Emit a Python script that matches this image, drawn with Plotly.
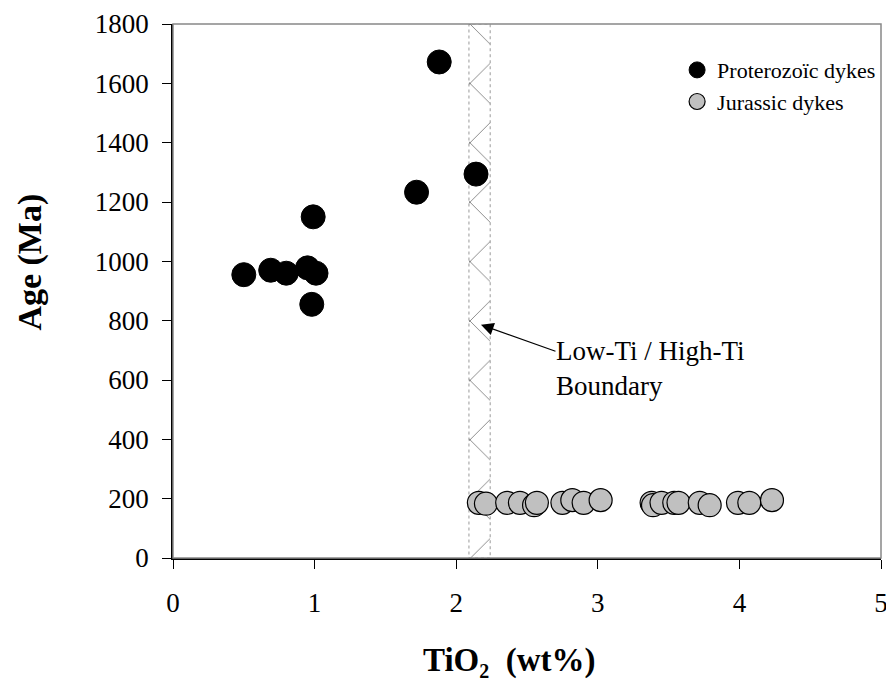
import plotly.graph_objects as go

# Proterozoic dykes
prot_tio2 = [1.88, 2.14, 1.72, 0.99, 0.50, 0.69, 0.80, 0.95, 1.01, 0.98]
prot_age = [1672, 1294, 1233, 1150, 955, 970, 960, 978, 960, 855]

# Jurassic dykes
jur_tio2 = [2.16, 2.21, 2.36, 2.45, 2.55, 2.57, 2.75, 2.82, 2.90, 3.02,
            3.38, 3.39, 3.45, 3.54, 3.57, 3.72, 3.79, 3.99, 4.07, 4.23]
jur_age = [186, 183, 186, 186, 178, 186, 186, 195, 186, 195,
           186, 178, 186, 186, 186, 186, 178, 186, 186, 195]

# Low-Ti / High-Ti boundary band (TiO2 wt%)
band_tio2 = [2.09, 2.24]
age_range = [0, 1800]

FONT = "Liberation Serif"

fig = go.Figure()

fig.add_trace(go.Scatter(
    x=[band_tio2[0], band_tio2[1], band_tio2[1], band_tio2[0], band_tio2[0]],
    y=[age_range[0], age_range[0], age_range[1], age_range[1], age_range[0]],
    mode="lines", fill="toself", fillcolor="rgba(255,255,255,0)",
    fillpattern=dict(shape="x", size=42, fgcolor="#111111", bgcolor="white", solidity=0.045),
    line=dict(color="#999999", width=1, dash="dot"),
    showlegend=False, hoverinfo="skip"))

fig.add_trace(go.Scatter(
    x=prot_tio2, y=prot_age, mode="markers", name="Proterozoïc dykes",
    marker=dict(size=24, color="black", line=dict(color="black", width=1))))

fig.add_trace(go.Scatter(
    x=jur_tio2, y=jur_age, mode="markers", name="Jurassic dykes",
    marker=dict(size=23, color="#c0c0c0", line=dict(color="black", width=1.2))))

fig.add_annotation(x=2.175, y=786, xref="x", yref="y", text="", showarrow=True,
                   ax=76, ay=27, arrowhead=2, arrowsize=2.1, arrowwidth=1.2, arrowcolor="black")
fig.add_annotation(x=2.69, y=640, xref="x", yref="y", text="Low-Ti / High-Ti<br>Boundary",
                   showarrow=False, xanchor="left", align="left",
                   font=dict(family=FONT, size=27, color="black"))

# axis titles
fig.add_annotation(x=-0.202, y=0.555, xref="paper", yref="paper", text="<b>Age (Ma)</b>",
                   textangle=-90, showarrow=False, xanchor="center", yanchor="middle",
                   font=dict(family=FONT, size=34, color="black"))
fig.add_annotation(x=0.475, y=-0.195, xref="paper", yref="paper",
                   text="<b>TiO<sub><span style='font-size:20px'>2</span></sub>  (wt%)</b>",
                   showarrow=False, xanchor="center", yanchor="middle",
                   font=dict(family=FONT, size=33, color="black"))

fig.add_shape(type="rect", xref="paper", yref="paper", x0=0, x1=1, y0=0, y1=1,
              line=dict(color="#888888", width=1.5), layer="above")

# the page body adds an 8 px offset, so margins are reduced by 8 px on the top/left
fig.update_layout(
    width=894, height=684,
    margin=dict(l=165, r=21, t=16, b=134),
    plot_bgcolor="white", paper_bgcolor="white",
    font=dict(family=FONT, color="black"),
    legend=dict(x=0.712, y=0.953, xanchor="left", yanchor="top",
                font=dict(family=FONT, size=22), bgcolor="rgba(0,0,0,0)",
                tracegroupgap=0),
    xaxis=dict(range=[0, 5], tickvals=[0, 1, 2, 3, 4, 5], showgrid=False, zeroline=False,
               showline=True, linecolor="black", linewidth=1.5, automargin=False,
               ticks="outside", ticklen=9, tickcolor="black", ticklabelstandoff=11,
               tickfont=dict(size=27, family=FONT)),
    yaxis=dict(range=[0, 1800], tickvals=list(range(0, 1801, 200)), showgrid=False, zeroline=False,
               showline=True, linecolor="black", linewidth=1.5, automargin=False,
               ticks="outside", ticklen=9, tickcolor="black", ticklabelstandoff=8,
               tickfont=dict(size=27, family=FONT)),
)

fig.write_html("out.html")
